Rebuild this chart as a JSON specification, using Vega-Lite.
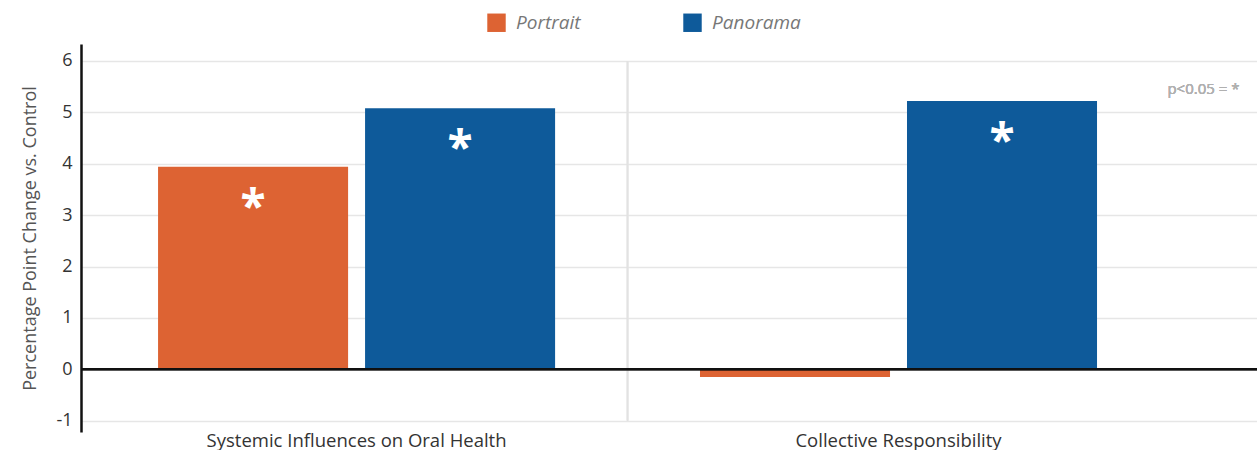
{
  "$schema": "https://vega.github.io/schema/vega-lite/v6.json",
  "width": 1176,
  "height": 388,
  "autosize": {"type": "none"},
  "padding": {"left": 81, "top": 44, "right": 0, "bottom": 18},
  "background": "white",
  "config": {
    "view": {"stroke": null},
    "font": "Open Sans"
  },
  "data": {
    "values": [
      {"measure": "Systemic Influences on Oral Health", "group": "Portrait", "value": 3.94, "sig": "*"},
      {"measure": "Systemic Influences on Oral Health", "group": "Panorama", "value": 5.08, "sig": "*"},
      {"measure": "Collective Responsibility", "group": "Portrait", "value": -0.15, "sig": ""},
      {"measure": "Collective Responsibility", "group": "Panorama", "value": 5.22, "sig": "*"}
    ]
  },
  "layer": [
    {
      "mark": {"type": "rule", "color": "#e2e2e2", "strokeWidth": 1.5},
      "encoding": {
        "x": {"datum": "Collective Responsibility", "type": "nominal", "bandPosition": 0},
        "y": {"datum": 6, "type": "quantitative"},
        "y2": {"datum": -1}
      }
    },
    {
      "mark": {"type": "bar"},
      "encoding": {
        "x": {
          "field": "measure", "type": "nominal",
          "sort": ["Systemic Influences on Oral Health", "Collective Responsibility"],
          "scale": {"paddingInner": 0, "paddingOuter": 0.085, "align": 0.05},
          "axis": {"title": null, "labelAngle": 0, "labelAlign": "center", "domain": false, "ticks": false, "grid": false, "labelFontSize": 18.5, "labelColor": "#333333", "labelPadding": 8, "labelLimit": 600}
        },
        "xOffset": {
          "field": "group", "type": "nominal",
          "sort": ["Portrait", "Panorama"],
          "scale": {"paddingInner": 0.082, "paddingOuter": 0.35}
        },
        "y": {
          "field": "value", "type": "quantitative",
          "scale": {"domain": [-1.22, 6.33], "nice": false, "zero": false},
          "axis": {
            "title": "Percentage Point Change vs. Control",
            "titleFontSize": 18, "titleColor": "#555555", "titleFontWeight": "normal", "titlePadding": 16,
            "values": [-1, 0, 1, 2, 3, 4, 5, 6],
            "labelExpr": "replace(datum.label, '\u2212', '-')",
            "domain": true, "domainColor": "#111111", "domainWidth": 2.5,
            "ticks": false, "labelPadding": 9, "labelFontSize": 18, "labelColor": "#333333",
            "grid": true, "gridColor": "#e6e6e6", "gridWidth": 1.5
          }
        },
        "color": {
          "field": "group", "type": "nominal",
          "sort": ["Portrait", "Panorama"],
          "scale": {"domain": ["Portrait", "Panorama"], "range": ["#DD6333", "#0E5A9A"]},
          "legend": {
            "title": null, "orient": "none", "legendX": 406, "legendY": -31,
            "direction": "horizontal", "symbolType": "square", "symbolSize": 340,
            "symbolStrokeWidth": 0, "labelFontSize": 19, "labelFontStyle": "italic",
            "labelColor": "#777777", "columnPadding": 102, "labelOffset": 10
          }
        }
      }
    },
    {
      "mark": {"type": "rule", "color": "#111111", "strokeWidth": 2},
      "encoding": {"y": {"datum": 0, "type": "quantitative"}}
    },
    {
      "transform": [{"filter": "datum.sig != ''"}],
      "mark": {"type": "text", "color": "white", "fontSize": 46, "fontWeight": "bold", "baseline": "top", "dy": 20},
      "encoding": {
        "x": {"field": "measure", "type": "nominal", "sort": ["Systemic Influences on Oral Health", "Collective Responsibility"]},
        "xOffset": {"field": "group", "type": "nominal", "sort": ["Portrait", "Panorama"]},
        "y": {"field": "value", "type": "quantitative"},
        "text": {"field": "sig"}
      }
    },
    {
      "mark": {"type": "text", "color": "#b0b0b0", "fontSize": 15, "align": "right", "baseline": "middle", "dx": 70},
      "encoding": {
        "x": {"datum": "Collective Responsibility", "type": "nominal", "bandPosition": 1},
        "y": {"datum": 5.45, "type": "quantitative"},
        "text": {"value": "p<0.05 = *"}
      }
    }
  ]
}
